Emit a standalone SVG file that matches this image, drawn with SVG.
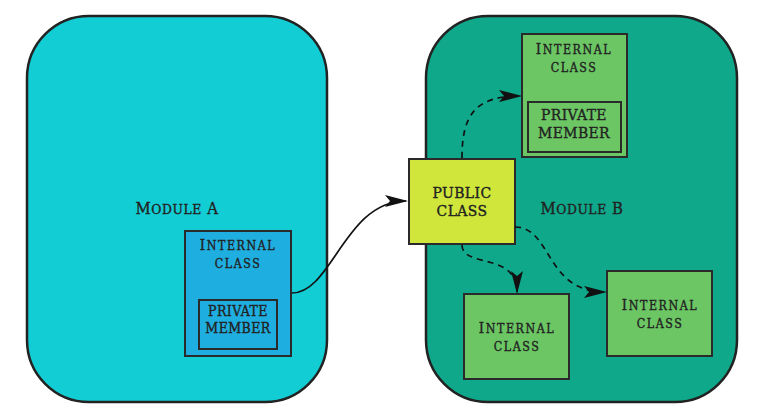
<svg xmlns="http://www.w3.org/2000/svg" width="768" height="416" viewBox="0 0 768 416">
<defs>
<style>
.mod{stroke:#222;stroke-width:2.5}
.box{stroke:#2a2a2a;stroke-width:2}
text{font-family:"DejaVu Serif Condensed","DejaVu Serif",serif;font-stretch:condensed;fill:#222;stroke:#222;stroke-width:0.35;text-anchor:middle}
.m{font-size:16.5px;letter-spacing:0.6px}
.m .s{font-size:13.7px;text-transform:uppercase}
.t{font-size:15px;letter-spacing:1.6px}
.t .s{font-size:12.3px;text-transform:uppercase}
.u{font-size:14px;letter-spacing:0.4px}
.c{fill:none;stroke:#111;stroke-width:1.7}
.d{stroke-dasharray:6 5}
</style>
<marker id="ah" markerWidth="23" markerHeight="12" refX="21" refY="6" orient="auto" markerUnits="userSpaceOnUse">
<path d="M0,0 L23,6 L0,12 L5,6 z" fill="#111"/>
</marker>
</defs>
<rect width="768" height="416" fill="#fff"/>
<g id="moduleA">
<rect class="mod" x="27" y="16" width="300" height="386" rx="62" fill="#13CDD4"/>
<text class="m" x="177" y="214">M<tspan class="s">odule</tspan> A</text>
</g>
<g id="moduleB">
<rect class="mod" x="426" y="16" width="311" height="386" rx="62" fill="#0FA88A"/>
<text class="m" x="582" y="214">M<tspan class="s">odule</tspan> B</text>
</g>
<g id="internalA">
<rect class="box" x="185" y="231" width="106" height="125" fill="#1FAEE0"/>
<text class="t" x="238" y="250">I<tspan class="s">nternal</tspan></text>
<text class="t" x="238" y="268"><tspan class="s">class</tspan></text>
<rect class="box" x="199" y="300" width="78" height="49" fill="#1FAEE0"/>
<text class="u" x="238" y="316">PRIVATE</text>
<text class="u" x="238" y="333">MEMBER</text>
</g>
<g id="publicClass">
<rect class="box" x="409" y="159" width="106" height="85" fill="#D0E63B"/>
<text class="u" x="462" y="198" style="font-size:15.5px">PUBLIC</text>
<text class="u" x="462" y="216" style="font-size:15.5px">CLASS</text>
</g>
<g id="internalTop">
<rect class="box" x="522" y="34" width="105" height="123" fill="#6CC664"/>
<text class="t" x="574" y="54">I<tspan class="s">nternal</tspan></text>
<text class="t" x="574" y="72"><tspan class="s">class</tspan></text>
<rect class="box" x="528" y="102" width="93" height="50" fill="#6CC664"/>
<text class="u" x="574" y="120" style="font-size:15.5px">PRIVATE</text>
<text class="u" x="574" y="138" style="font-size:15.5px">MEMBER</text>
</g>
<g id="internalBottomLeft">
<rect class="box" x="464" y="294" width="105" height="85" fill="#6CC664"/>
<text class="t" x="517" y="333">I<tspan class="s">nternal</tspan></text>
<text class="t" x="517" y="351"><tspan class="s">class</tspan></text>
</g>
<g id="internalBottomRight">
<rect class="box" x="607" y="271" width="105" height="85" fill="#6CC664"/>
<text class="t" x="660" y="310">I<tspan class="s">nternal</tspan></text>
<text class="t" x="660" y="328"><tspan class="s">class</tspan></text>
</g>
<g id="connectors">
<path class="c" d="M292,293 C332,293 345,201 406,201" marker-end="url(#ah)"/>
<path class="c d" d="M462,158 C462,115 475,96 520,96" marker-end="url(#ah)"/>
<path class="c d" d="M462,245 C462,268 517,252 517,292" marker-end="url(#ah)"/>
<path class="c d" d="M515,227 C552,227 545,292 605,292" marker-end="url(#ah)"/>
</g>
</svg>
